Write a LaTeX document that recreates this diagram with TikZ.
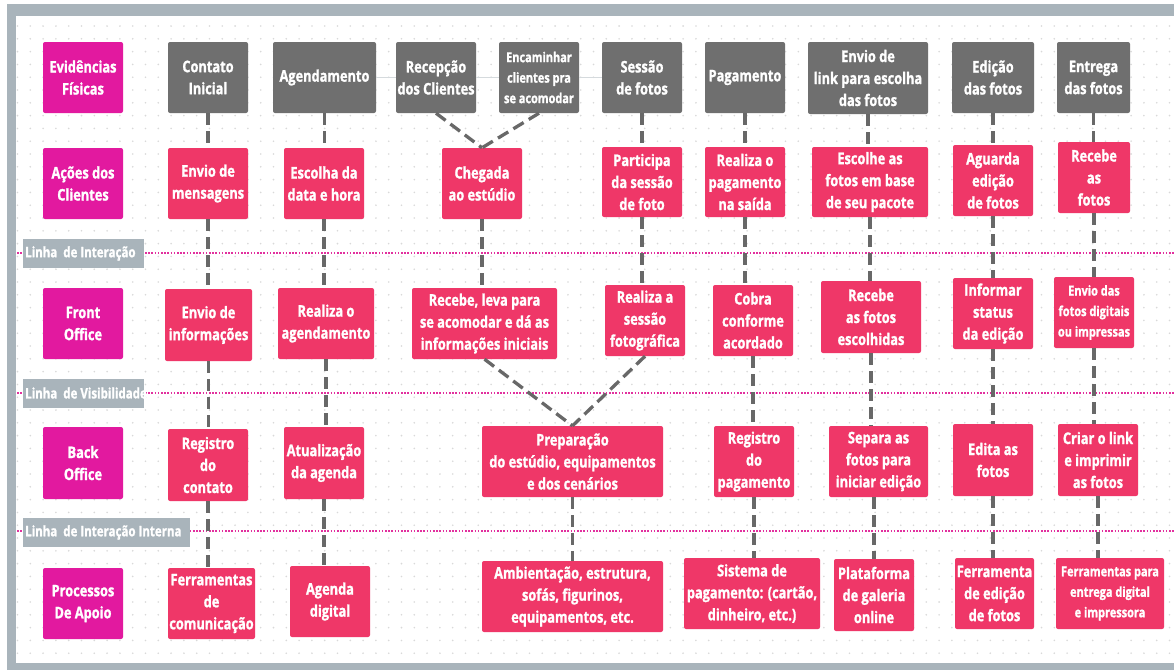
\documentclass[tikz,border=0pt]{standalone}
\usepackage{fontspec}
\IfFontExistsTF{Open Sans Bold}
  {\newfontfamily\bfam{Open Sans Bold}[FakeStretch=0.8,FakeBold=1.3]}
  {\newfontfamily\bfam{Open Sans}[FakeStretch=0.8,FakeBold=3]}
\definecolor{pinkc}{HTML}{EF3768}
\definecolor{magc}{HTML}{E2199F}
\definecolor{grayc}{HTML}{6F6F6F}
\definecolor{framec}{HTML}{A9B4BB}
\definecolor{connc}{HTML}{686868}
\definecolor{linec}{HTML}{E2309E}
\definecolor{dotc}{HTML}{D9D9D9}
\definecolor{faintc}{HTML}{D5DADD}
\newcommand\vcon[2]{\draw[cn] (#1.south) -- (#1.south |- #2.north);}
\begin{document}
\begin{tikzpicture}[x=1pt,y=-1pt,
  bx/.style={rounded corners=2pt, text=white, align=center, inner sep=0pt,
    font=\bfam\fontsize{16}{22}\selectfont},
  pk/.style={bx, fill=pinkc},
  mg/.style={bx, fill=magc},
  gr/.style={bx, fill=grayc},
  sm/.style={font=\bfam\fontsize{13.7}{20.5}\selectfont},
  sz/.style 2 args={minimum width=#1pt, minimum height=#2pt},
  cn/.style={draw=connc, line width=3.3pt, dash pattern=on 12pt off 6pt},
  ln/.style={draw=linec, line width=2pt, dash pattern=on 1.6pt off 1.6pt},
  lb/.style={fill=framec, text=white, inner ysep=0pt, inner xsep=2pt, anchor=west,
    minimum height=29pt, font=\bfam\fontsize{14.4}{18}\selectfont},
  fl/.style={draw=faintc, line width=1pt},
  dotrow/.style={draw=dotc, line width=1.8pt, line cap=round, dash pattern=on 0pt off 12.8pt}]
\useasboundingbox (0,0) rectangle (1174,670);
% frame
\fill[framec] (7,4) rectangle (1180,670);
\fill[white] (16,16) rectangle (1180,663);
% dot grid
\foreach \j in {0,...,49}{\draw[dotrow] (17.5,26+12.8*\j) -- (1174,26+12.8*\j);}
% separation lines
\draw[ln] (17,253) -- (1174,253);
\draw[ln] (17,393) -- (1174,393);
\draw[ln] (17,531) -- (1174,531);
\node[lb] (li) at (23,253.5) {\makebox[117pt][l]{Linha\ \ de Interação}};
\node[lb] (lv) at (23,393) {\makebox[117pt][l]{Linha\ \ de Visibilidade}};
\node[lb] (lii) at (23,532.5) {\makebox[163pt][l]{Linha\ \ de Interação Interna}};
% row labels
\node[mg, sz={80}{71}] (L1) at (83,77.5) {Evidências\\Físicas};
\node[mg, sz={80}{71}] (L2) at (83,183.5) {Ações dos\\Clientes};
\node[mg, sz={80}{71}] (L3) at (83,323.5) {Front\\Office};
\node[mg, sz={80}{72}] (L4) at (83,463) {Back\\Office};
\node[mg, sz={80}{71}] (L5) at (83,603.5) {Processos\\De Apoio};
% physical evidence
\node[gr, sz={80}{71}] (g1) at (208,77.5) {Contato\\Inicial};
\node[gr, sz={103}{71}] (g2) at (324.5,77.5) {Agendamento};
\node[gr, sz={80}{71}] (g3a) at (436,77.5) {Recepção\\dos Clientes};
\node[gr, sm, sz={80}{71}] (g3b) at (539,77.5) {Encaminhar\\clientes pra\\se acomodar};
\node[gr, sz={80}{71}] (g4) at (642,77.5) {Sessão\\de fotos};
\node[gr, sz={80}{71}] (g5) at (745,77.5) {Pagamento};
\node[gr, sz={120}{72}] (g6) at (868,78) {Envio de\\link para escolha\\das fotos};
\node[gr, sz={82}{71}] (g7) at (993,77.5) {Edição\\das fotos};
\node[gr, sz={73}{71}] (g8) at (1093.5,77.5) {Entrega\\das fotos};
% customer actions
\node[pk, sz={80}{71}] (a1) at (208,183.5) {Envio de\\mensagens};
\node[pk, sz={80}{71}] (a2) at (324,183.5) {Escolha da\\data e hora};
\node[pk, sz={80}{71}] (a3) at (482,183.5) {Chegada\\ao estúdio};
\node[pk, sz={80}{70}] (a4) at (642,182) {Participa\\da sessão\\de foto};
\node[pk, sz={80}{70}] (a5) at (745,182) {Realiza o\\pagamento\\na saída};
\node[pk, sz={116}{70}] (a6) at (870,182) {Escolhe as\\fotos em base\\de seu pacote};
\node[pk, sz={80}{71}] (a7) at (993,180.5) {Aguarda\\edição\\de fotos};
\node[pk, sz={72}{71}] (a8) at (1094,177.5) {Recebe\\as\\fotos};
% front office
\node[pk, sz={87}{72}] (f1) at (208.5,325) {Envio de\\informações};
\node[pk, sz={96}{71}] (f2) at (326,323.5) {Realiza o\\agendamento};
\node[pk, sz={145}{71}] (f3) at (484.5,323.5) {Recebe, leva para\\se acomodar e dá as\\informações iniciais};
\node[pk, sz={80}{71}] (f4) at (645,320.5) {Realiza a\\sessão\\fotográfica};
\node[pk, sz={80}{71}] (f5) at (753,320.5) {Cobra\\conforme\\acordado};
\node[pk, sz={100}{72}] (f6) at (871,317) {Recebe\\as fotos\\escolhidas};
\node[pk, sz={80}{71}] (f7) at (993,313.5) {Informar\\status\\da edição};
\node[pk, sm, sz={80}{71}] (f8) at (1094,312.5) {Envio das\\fotos digitais\\ou impressas};
% back office
\node[pk, sz={80}{72}] (b1) at (208,465) {Registro\\do\\contato};
\node[pk, sz={80}{72}] (b2) at (324,463) {Atualização\\da agenda};
\node[pk, sz={181}{71}] (b3) at (572.5,461.5) {Preparação\\do estúdio, equipamentos\\e dos cenários};
\node[pk, sz={80}{71}] (b5) at (754,461.5) {Registro\\do\\pagamento};
\node[pk, sz={99}{71}] (b6) at (878.5,461.5) {Separa as\\fotos para\\iniciar edição};
\node[pk, sz={80}{72}] (b7) at (993,460) {Edita as\\fotos};
\node[pk, sz={80}{72}] (b8) at (1098,460) {Criar o link\\e imprimir\\as fotos};
% support processes
\node[pk, sz={87}{71}] (s1) at (211.5,603.5) {Ferramentas\\de\\comunicação};
\node[pk, sz={80}{71}] (s2) at (330,601.5) {Agenda\\digital};
\node[pk, sz={181}{71}] (s3) at (572.5,596.5) {Ambientação, estrutura,\\sofás, figurinos,\\equipamentos, etc.};
\node[pk, sz={136}{71}] (s5) at (752,593.5) {Sistema de\\pagamento: (cartão,\\dinheiro, etc.)};
\node[pk, sz={80}{72}] (s6) at (874,595) {Plataforma\\de galeria\\online};
\node[pk, sz={79}{71}] (s7) at (994.5,593.5) {Ferramenta\\de edição\\de fotos};
\node[pk, sm, sz={108}{71}] (s8) at (1110,593.5) {Ferramentas para\\entrega digital\\e impressora};
% faint line between top boxes
\draw[fl] (g2.east) -- (g3a.west);
\draw[fl] (g3a.east) -- (g3b.west);
\draw[fl] (g3b.east) -- (g4.west);
% connectors
\vcon{g1}{a1}\vcon{a1}{f1}\vcon{f1}{b1}\vcon{b1}{s1}
\vcon{g2}{a2}\vcon{a2}{f2}\vcon{f2}{b2}\vcon{b2}{s2}
\draw[cn] (g3a.south) -- (a3.north);
\draw[cn] (g3b.south) -- (a3.north);
\vcon{a3}{f3}
\draw[cn] (f3.south) -- (b3.north);
\draw[cn] (f4.south) -- (b3.north);
\vcon{b3}{s3}
\vcon{g4}{a4}\vcon{a4}{f4}
\vcon{g5}{a5}\vcon{a5}{f5}\vcon{f5}{b5}\vcon{b5}{s5}
\vcon{g6}{a6}\vcon{a6}{f6}\vcon{f6}{b6}
\draw[cn] (b6.south -| s6.north) -- (s6.north);
\vcon{g7}{a7}\vcon{a7}{f7}\vcon{f7}{b7}\vcon{b7}{s7}
\vcon{g8}{a8}\vcon{a8}{f8}\vcon{f8}{b8}\vcon{b8}{s8}
\end{tikzpicture}
\end{document}
